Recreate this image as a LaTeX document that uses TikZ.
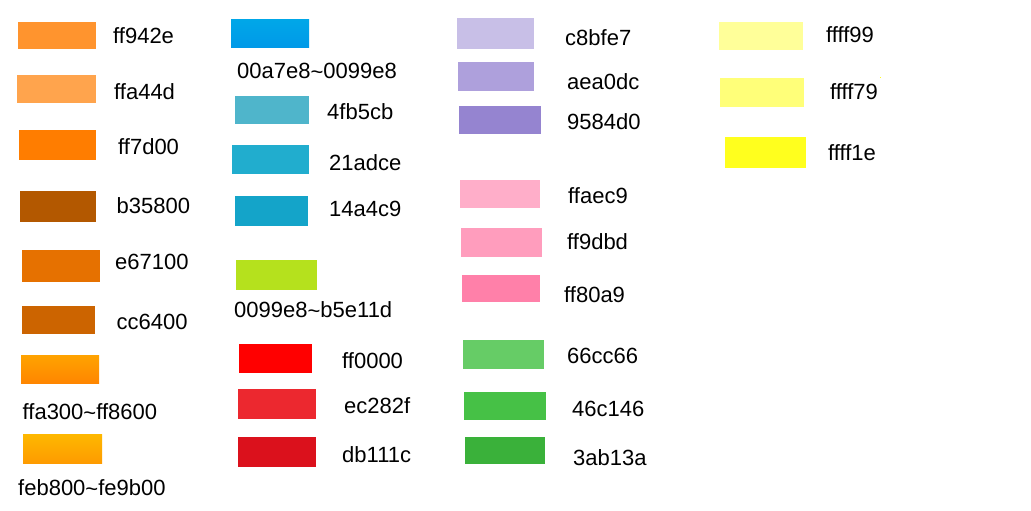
\documentclass[tikz,border=0pt]{standalone}
\usepackage{fontspec}
\setmainfont{Liberation Sans}
\newcommand{\swatch}[5]{\fill[#5] (#1,#2) rectangle (#3,#4);}
\begin{document}
\begin{tikzpicture}[x=1pt,y=-1pt,
  lbl/.style={anchor=west,inner sep=0pt,font=\fontsize{22}{26}\selectfont,text=black}]
\useasboundingbox[fill=white] (0,0) rectangle (1031,511);
% colours
\definecolor{cA1}{HTML}{FF942E}\definecolor{cA2}{HTML}{FFA44D}
\definecolor{cA3}{HTML}{FF7D00}\definecolor{cA4}{HTML}{B35800}
\definecolor{cA5}{HTML}{E67100}\definecolor{cA6}{HTML}{CC6400}
\definecolor{cA7t}{HTML}{FFA300}\definecolor{cA7b}{HTML}{FF8600}
\definecolor{cA8t}{HTML}{FEB800}\definecolor{cA8b}{HTML}{FE9B00}
\definecolor{cB1t}{HTML}{00A7E8}\definecolor{cB1b}{HTML}{0099E8}
\definecolor{cB2}{HTML}{4FB5CB}\definecolor{cB3}{HTML}{21ADCE}
\definecolor{cB4}{HTML}{14A4C9}\definecolor{cB5}{HTML}{B5E11D}
\definecolor{cB6}{HTML}{FF0000}\definecolor{cB7}{HTML}{EC282F}
\definecolor{cB8}{HTML}{DB111C}
\definecolor{cC1}{HTML}{C8BFE7}\definecolor{cC2}{HTML}{AEA0DC}
\definecolor{cC3}{HTML}{9584D0}\definecolor{cC4}{HTML}{FFAEC9}
\definecolor{cC5}{HTML}{FF9DBD}\definecolor{cC6}{HTML}{FF80A9}
\definecolor{cC7}{HTML}{66CC66}\definecolor{cC8}{HTML}{46C146}
\definecolor{cC9}{HTML}{3AB13A}
\definecolor{cD1}{HTML}{FFFF99}\definecolor{cD2}{HTML}{FFFF79}
\definecolor{cD3}{HTML}{FFFF1E}
% column 1
\swatch{18}{22}{96}{49}{cA1}
\swatch{17}{75}{96}{103}{cA2}
\swatch{19}{130}{96}{160}{cA3}
\swatch{20}{191}{96}{222}{cA4}
\swatch{22}{250}{100}{282}{cA5}
\swatch{22}{306}{95}{334}{cA6}
\shade[top color=cA7t,bottom color=cA7b] (21,355) rectangle (99,383);
\shade[top color=cA8t,bottom color=cA8b] (23,434) rectangle (102,463);
\node[lbl] (a1) at (113,35.5) {ff942e};
\node[lbl] (a2) at (114,92) {ffa44d};
\node[lbl] (a3) at (118,147) {ff7d00};
\node[lbl] (a4) at (116.5,206) {b35800};
\node[lbl] (a5) at (115,262) {e67100};
\node[lbl] (a6) at (116.5,322) {cc6400};
\node[lbl] (a7) at (22.5,412) {ffa300\raisebox{-1pt}{\char`\~}ff8600};
\node[lbl] (a8) at (18,488) {feb800\raisebox{-1pt}{\char`\~}fe9b00};
% column 2
\shade[top color=cB1t,bottom color=cB1b] (231,20) rectangle (309,48);
\swatch{235}{96}{309}{124}{cB2}
\swatch{232}{145}{309}{174}{cB3}
\swatch{235}{196}{308}{226}{cB4}
\swatch{236}{260}{317}{290}{cB5}
\swatch{239}{344}{312}{373}{cB6}
\swatch{238}{389}{316}{419}{cB7}
\swatch{238}{437}{316}{467}{cB8}
\node[lbl] (b1) at (237,71) {00a7e8\raisebox{-1pt}{\char`\~}0099e8};
\node[lbl] (b2) at (327,112) {4fb5cb};
\node[lbl] (b3) at (329,163) {21adce};
\node[lbl] (b4) at (329,209) {14a4c9};
\node[lbl] (b5) at (234,310) {0099e8\raisebox{-1pt}{\char`\~}b5e11d};
\node[lbl] (b6) at (342,361) {ff0000};
\node[lbl] (b7) at (344,406) {ec282f};
\node[lbl] (b8) at (342,455) {db111c};
% column 3
\swatch{457}{18}{534}{49}{cC1}
\swatch{458}{62}{534}{91}{cC2}
\swatch{459}{106}{541}{134}{cC3}
\swatch{460}{180}{540}{208}{cC4}
\swatch{461}{228}{542}{257}{cC5}
\swatch{462}{275}{540}{302}{cC6}
\swatch{463}{340}{544}{369}{cC7}
\swatch{464}{392}{546}{420}{cC8}
\swatch{465}{437}{545}{464}{cC9}
\node[lbl] (c1) at (565,38) {c8bfe7};
\node[lbl] (c2) at (567,82) {aea0dc};
\node[lbl] (c3) at (567,122) {9584d0};
\node[lbl] (c4) at (568,196) {ffaec9};
\node[lbl] (c5) at (567,242) {ff9dbd};
\node[lbl] (c6) at (564,295) {ff80a9};
\node[lbl] (c7) at (567,356) {66cc66};
\node[lbl] (c8) at (572,409) {46c146};
\node[lbl] (c9) at (573,458) {3ab13a};
% column 4
\swatch{719}{22}{803}{50}{cD1}
\swatch{720}{78}{804}{107}{cD2}
\swatch{725}{137}{806}{168}{cD3}
\fill[cD3] (879.5,77) rectangle (881,78.5);
\node[lbl] (d1) at (826,35) {ffff99};
\node[lbl] (d2) at (830,92) {ffff79};
\node[lbl] (d3) at (828,153) {ffff1e};
\end{tikzpicture}
\end{document}
